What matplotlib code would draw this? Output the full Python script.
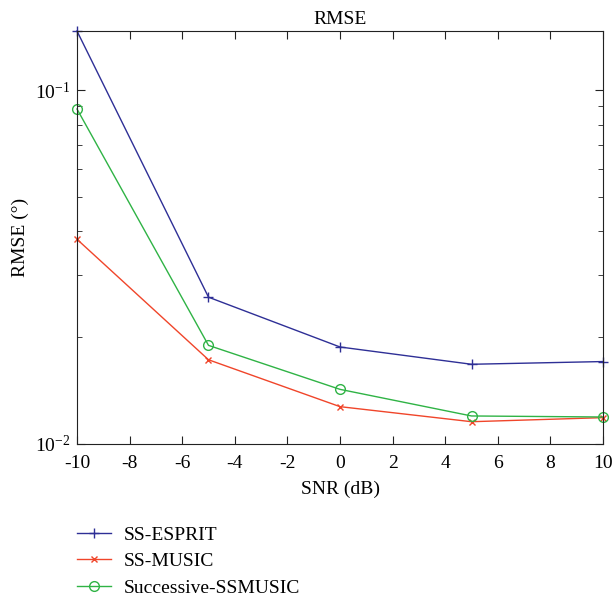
import numpy as np
import matplotlib.pyplot as plt
from matplotlib.ticker import LogLocator, NullFormatter, LogFormatterSciNotation

plt.rcParams['font.family'] = ['Liberation Serif', 'DejaVu Serif']
plt.rcParams['mathtext.fontset'] = 'stix'
plt.rcParams['axes.unicode_minus'] = False
fs = 14

snr = [-10, -5, 0, 5, 10]
rmse_esprit = [0.147, 0.026, 0.0188, 0.0168, 0.0171]
rmse_music = [0.0379, 0.0173, 0.01275, 0.01156, 0.01187]
rmse_succ = [0.0885, 0.0190, 0.01427, 0.0120, 0.01192]

fig = plt.figure(figsize=(6.13, 5.99), dpi=100, facecolor='w')
ax = fig.add_axes([0.1256, 0.2588, 0.8581, 0.6894])

ax.plot(snr, rmse_esprit, '-+', color='#2e2f96', lw=1.0, ms=7, mew=1.0, label='SS-ESPRIT', clip_on=False)
ax.plot(snr, rmse_music, '-x', color='#f0452a', lw=1.0, ms=5, mew=1.0, label='SS-MUSIC', clip_on=False)
ax.plot(snr, rmse_succ, '-o', color='#2fb345', lw=1.0, ms=7, mew=1.0, mfc='none',
        label='Successive-SSMUSIC', clip_on=False)

ax.set_yscale('log')
ax.set_xlim(-10, 10)
ax.set_ylim(0.01, 0.147)
ax.set_xticks(np.arange(-10, 11, 2))
ax.yaxis.set_major_locator(LogLocator(base=10))
ax.yaxis.set_major_formatter(LogFormatterSciNotation())
ax.yaxis.set_minor_locator(LogLocator(base=10, subs=np.arange(2, 10)))
ax.yaxis.set_minor_formatter(NullFormatter())

ax.tick_params(which='both', direction='in', top=True, right=True, labelsize=fs, color='#222222')
ax.tick_params(which='major', length=6)
ax.tick_params(which='minor', length=3.5)
ax.tick_params(axis='y', pad=5)
ax.tick_params(axis='x', pad=8)
for s in ax.spines.values():
    s.set_color('#222222')

ax.set_title('RMSE', fontsize=fs, pad=5)
ax.set_xlabel('SNR (dB)', fontsize=fs, labelpad=6)
ax.set_ylabel('RMSE (°)', fontsize=fs, labelpad=4)

fig.legend(loc='upper left', bbox_to_anchor=(0.1126, 0.135), frameon=False, fontsize=fs,
           handlelength=1.75, handletextpad=0.65, labelspacing=0.46, borderaxespad=0)

fig.savefig('out.png', dpi=100)
